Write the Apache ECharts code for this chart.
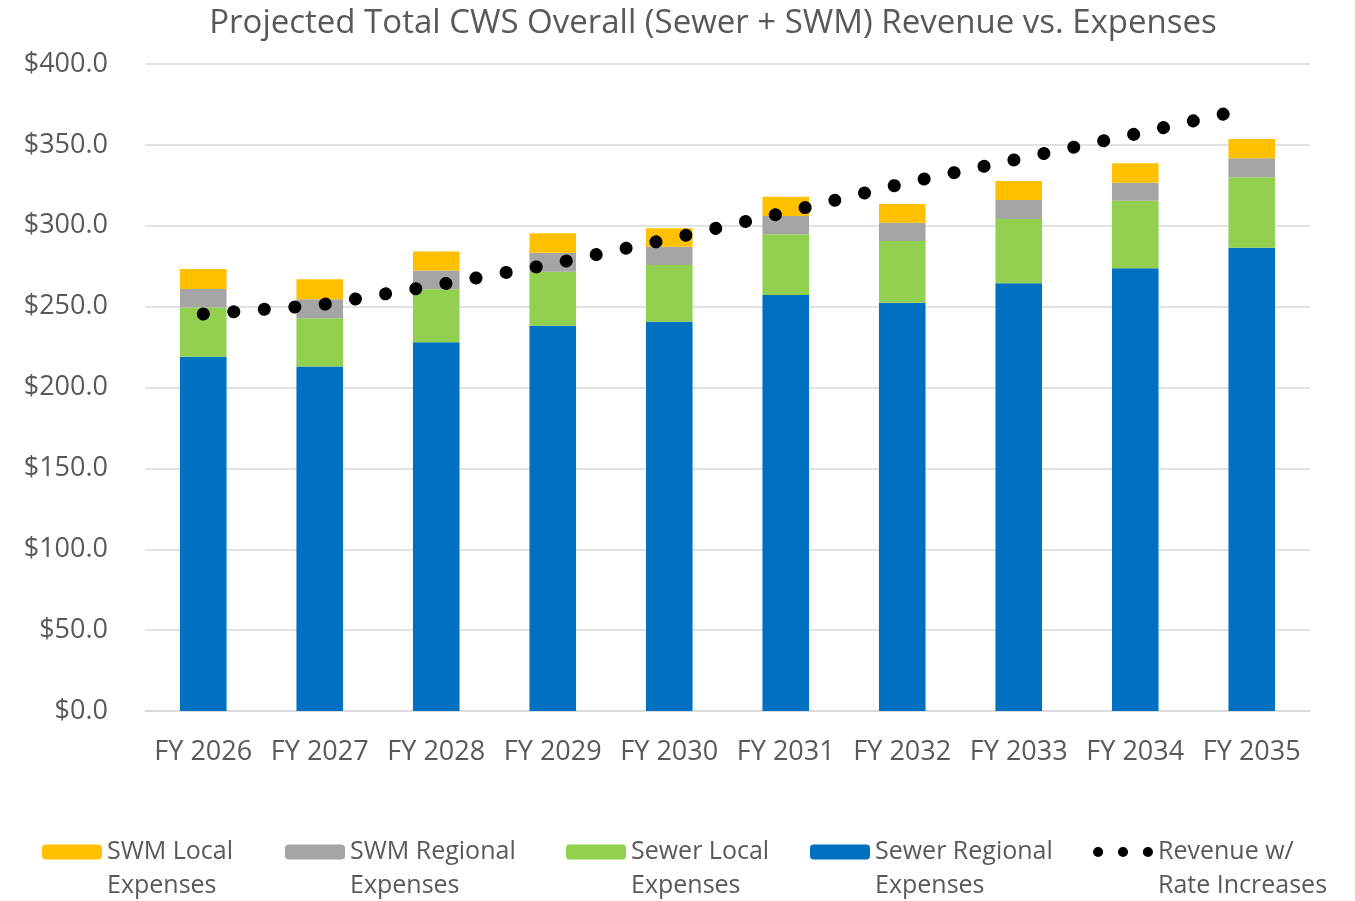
<!DOCTYPE html>
<html>
<head>
<meta charset="UTF-8">
<title>CWS revenue vs expenses</title>
<script src="https://cdn.jsdelivr.net/npm/echarts@6/dist/echarts.min.js"></script>
<style>
*{margin:0;padding:0}
html,body{width:100%;height:100%;background:#fff}
#main{width:1355px;height:901px}
</style>
</head>
<body>
<div id="main"></div>
<script>
var years = ['FY 2026', 'FY 2027', 'FY 2028', 'FY 2029', 'FY 2030', 'FY 2031', 'FY 2032', 'FY 2033', 'FY 2034', 'FY 2035'];
// $ millions
var sewerRegional = [219.0, 213.0, 228.0, 238.2, 240.7, 257.2, 252.4, 264.4, 273.7, 286.4];
var sewerLocal = [30.5, 29.8, 32.8, 33.4, 35.0, 37.5, 38.2, 39.8, 41.8, 43.6];
var swmRegional = [11.4, 11.7, 11.5, 11.7, 11.3, 11.3, 11.3, 11.7, 11.1, 11.7];
var swmLocal = [12.4, 12.4, 11.8, 12.0, 11.4, 12.0, 11.5, 11.8, 12.0, 11.9];
var revenue = [245.4, 251.0, 263.2, 276.4, 291.8, 308.3, 326.0, 341.3, 356.7, 373.0];

var txt = '#595959';
var font = 'Open Sans';
// three dots, like the excel legend swatch
var dotsIcon = 'path://M0,4.5a4.5,4.5 0 1,0 9,0a4.5,4.5 0 1,0 -9,0Z' +
    'M22,4.5a4.5,4.5 0 1,0 9,0a4.5,4.5 0 1,0 -9,0Z' +
    'M44,4.5a4.5,4.5 0 1,0 9,0a4.5,4.5 0 1,0 -9,0Z';

var myChart = echarts.init(document.getElementById('main'));

function barSeries(name, data, color) {
    return {
        name: name,
        type: 'bar',
        stack: 'exp',
        barWidth: '40%',
        data: data,
        itemStyle: {color: color},
        emphasis: {disabled: true}
    };
}

option = {
    animation: false,
    title: {
        text: 'Projected Total CWS Overall (Sewer + SWM) Revenue vs. Expenses',
        left: 708,
        textAlign: 'center',
        top: 2,
        textStyle: {color: txt, fontSize: 33, fontWeight: 'normal', fontFamily: font}
    },
    grid: {left: 145, right: 45, top: 64, bottom: 190},
    legend: {
        left: 37,
        top: 796,
        itemWidth: 60,
        itemHeight: 15,
        itemGap: 38,
        // blank first line so the swatch sits level with the first text line
        formatter: function (name) { return ' \n' + name; },
        textStyle: {color: txt, fontSize: 25, fontFamily: font, lineHeight: 34},
        data: [
            {name: 'SWM Local\nExpenses', textStyle: {width: 140}},
            {name: 'SWM Regional\nExpenses', textStyle: {width: 178}},
            {name: 'Sewer Local\nExpenses', textStyle: {width: 141}},
            {name: 'Sewer Regional\nExpenses', textStyle: {width: 180}},
            {name: 'Revenue w/\nRate Increases', icon: dotsIcon, itemStyle: {color: '#000'}}
        ]
    },
    xAxis: {
        type: 'category',
        data: years,
        axisTick: {show: false},
        axisLine: {lineStyle: {color: '#d9d9d9', width: 1.5}},
        axisLabel: {color: txt, fontSize: 27, fontFamily: font, margin: 28, interval: 0}
    },
    yAxis: {
        type: 'value',
        min: 0,
        max: 400,
        interval: 50,
        axisLine: {show: false},
        axisTick: {show: false},
        splitLine: {lineStyle: {color: '#d9d9d9', width: 1.5}},
        axisLabel: {
            color: txt, fontSize: 27, fontFamily: font, margin: 37,
            formatter: function (v) { return '$' + v.toFixed(1); }
        }
    },
    series: [
        barSeries('Sewer Regional\nExpenses', sewerRegional, '#0070C0'),
        barSeries('Sewer Local\nExpenses', sewerLocal, '#92D050'),
        barSeries('SWM Regional\nExpenses', swmRegional, '#A5A5A5'),
        barSeries('SWM Local\nExpenses', swmLocal, '#FFC000'),
        {
            name: 'Revenue w/\nRate Increases',
            type: 'line',
            data: revenue,
            symbol: 'none',
            z: 5,
            itemStyle: {color: '#000'},
            lineStyle: {color: '#000', width: 13, type: [0.1, 30.5], cap: 'round'},
            emphasis: {disabled: true}
        }
    ]
};
myChart.setOption(option);
</script>
</body>
</html>
